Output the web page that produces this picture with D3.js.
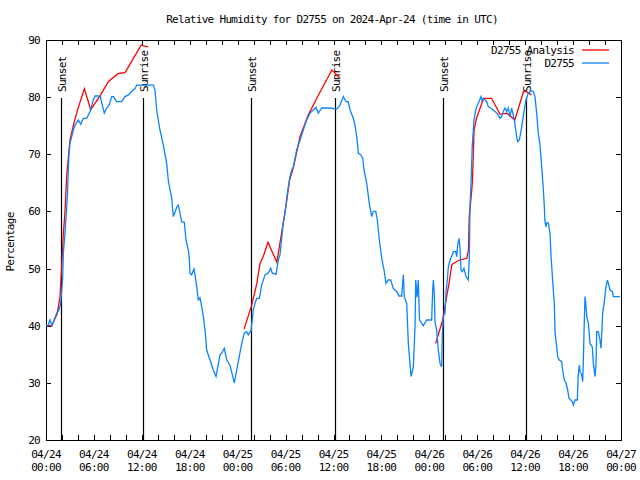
<!DOCTYPE html>
<html><head><meta charset="utf-8">
<script src="https://cdn.jsdelivr.net/npm/d3@7"></script>
<style>
body{margin:0;background:#fff;}
text{font-family:"DejaVu Sans Mono",monospace;font-size:11px;letter-spacing:-0.7px;fill:#000;}
</style></head><body>
<svg id="c" width="640" height="480"></svg>
<script>
// ---- data (hours since 2024-04-24 00:00 UTC) ----
const titleText = "Relative Humidity for D2755 on 2024-Apr-24 (time in UTC)";
const yLabel = "Percentage";
const yTicks = [20,30,40,50,60,70,80,90];
const seriesNames = ["D2755 Analysis","D2755"];

const obsHours = [0,0.25,0.5,0.75,1.34,1.54,1.68,1.84,1.92,2.09,2.17,2.38,2.59,2.69,2.79,2.88,3.0,3.22,3.42,3.63,4.04,4.35,4.67,5.1,5.51,5.92,6.14,6.76,7.3,7.6,7.89,8.23,8.43,8.85,9.48,9.89,10.31,10.73,11.14,11.36,13.44,13.65,13.86,14.06,14.27,14.69,15.11,15.31,15.53,15.74,15.94,16.15,16.37,16.57,16.78,16.99,17.32,17.53,17.82,17.94,18.03,18.24,18.53,18.66,18.87,19.07,19.28,19.5,19.7,19.91,20.12,20.54,20.95,21.29,21.79,22.0,22.33,22.63,23.04,23.58,23.88,24.08,24.51,24.83,25.13,25.33,25.67,25.96,26.17,26.38,26.71,27.01,27.42,27.84,28.14,28.34,28.8,29.09,29.3,29.51,29.71,29.93,30.14,30.34,30.55,30.77,30.97,31.39,31.81,32.22,32.64,33.06,33.47,33.81,34.1,34.52,35.56,36.4,36.81,37.23,37.57,37.85,38.07,38.48,38.69,38.91,39.11,39.41,39.66,39.82,40.07,40.16,40.48,40.78,40.98,41.29,41.49,41.74,42.04,42.33,42.57,42.86,43.16,43.49,43.91,44.2,44.54,44.74,44.87,45.17,45.37,45.71,46.0,46.21,46.3,46.46,46.62,46.77,47.24,47.67,48.29,48.42,48.5,48.62,48.71,48.92,49.12,49.34,49.55,49.62,49.75,49.96,50.09,50.25,50.38,50.59,50.81,51.01,51.31,51.43,51.55,51.72,51.84,51.97,52.13,52.34,52.59,52.88,53.01,53.09,53.22,53.38,53.59,53.81,54.01,54.22,54.47,54.6,54.76,55.19,55.39,55.69,56.01,56.44,56.85,57.06,57.26,57.48,57.69,57.89,58.1,58.31,58.64,58.94,59.06,59.27,59.57,59.86,60.11,60.39,60.73,61.02,61.23,61.44,61.64,61.86,62.07,62.27,62.4,62.48,62.61,62.7,62.9,63.11,63.24,63.4,63.52,63.65,63.74,63.95,64.07,64.27,64.57,64.7,64.9,65.11,65.32,65.49,65.7,65.9,66.03,66.24,66.53,66.65,66.78,66.87,67.08,67.2,67.28,67.41,67.49,67.58,67.71,67.91,68.12,68.41,68.54,68.75,68.87,68.96,69.16,69.37,69.5,69.59,69.71,69.91,70.09,70.29,70.42,70.62,70.91,71.04,71.87];
const obsValues = [40,40,41,40,42.2,42.5,43,44,45.4,48.3,52.7,56.2,60.8,63,67.3,69.9,71.9,73.1,74.25,75.1,76,75.25,76.3,76.3,77.5,79.5,80.2,80.2,77.2,78.1,78.6,80.1,80.1,79.2,79.2,80.1,80.4,81,81.5,82.1,82.1,81.25,77.75,76,74.25,71.6,68.4,65.5,63.75,62.3,59.1,59.8,60.8,61.1,59.7,58.2,58.1,55,53.25,51.8,49.2,48.9,49.9,48.9,46.8,44.5,44.9,43.3,41.6,39.25,35.75,34,32.25,31.1,34.9,35.2,36.05,34,33.1,30,32.25,33.7,36.9,38.7,38.95,38.4,39.1,42.75,43.9,44.8,44.8,47.1,48.9,49.2,50.05,49.2,49,51.5,52.4,55.3,57.9,59.7,62.3,64.3,66.1,67.25,67.8,70.75,72.5,74.25,76,77.2,77.75,78.2,77.2,78.1,78.1,77.9,78.6,80.1,79.2,79.2,77.75,76.3,75.1,73.1,70.2,69.9,69.3,67.25,65.5,64.9,61.4,59.1,60,60,58.5,55,51.8,49.75,47.4,48,48,46.5,46,45.2,45.2,48.9,45,43.9,36.9,31.1,32.8,40,48,45,48,41,40,41,41,46.25,48,45.7,40.7,39.25,35.75,33.4,32.8,38.1,41.6,42.2,46,48,50.3,51.5,52.2,52.95,52.95,52.1,54.1,55.3,53.5,49.75,49.45,50.05,48.6,48,52.1,60.8,64.9,71.6,76,77.75,78.6,79.2,80.1,79.4,79.8,79.2,78.3,78.1,77.75,77.2,76.3,76.6,77.5,78.1,77.5,78.1,76.6,78.1,76,73.1,72.2,72.5,74.8,77.5,79.5,80.7,81.1,81,80.1,77.2,73.7,71.6,67.8,64,60.8,58.2,57.3,58,58,56.2,52.1,48.9,46.25,43.9,38.7,36.3,34.6,34,33.7,32.25,30.5,30,28.75,27.3,27,26.7,26.1,27,27,31.4,33.1,32,31.4,30.2,33.7,41,45.1,44.2,41.6,40.4,36.9,36.3,33.4,31.1,33.4,38.95,38.95,37.5,36.05,38.7,42.2,44.2,46.5,48,47.4,46.25,46,45.1,45.1];

// null marks a gap in the analysis series
const anaHours = [0,0.7,1.38,1.75,1.97,2.17,2.38,2.6,3.0,3.5,4.0,4.8,5.6,6.8,7.8,9.0,9.9,11.9,12.8,null,24.8,25.76,26.4,26.8,27.2,27.8,28.9,29.5,30.1,30.5,31.0,31.8,32.85,33.9,35.8,36.8,null,48.8,49.67,49.95,50.5,50.8,51.0,51.8,52.7,52.9,53.0,53.2,53.4,53.6,53.9,54.8,55.8,56.85,57.7,58.7,59.8,60.1,60.8];
const anaValues = [40,40,42,45,50.6,56,60,66.4,72.5,75.5,78,81.5,77.8,80.3,82.7,84.1,84.3,89.1,88.8,null,39.4,43.6,47.4,50.9,52.1,54.6,51.1,56.2,61.4,65.5,67.8,73.1,76.9,79.8,84.75,83.3,null,36.9,41,43.3,47.7,50.6,50.9,51.5,51.8,53.25,59.1,62,65.2,74.25,76.3,79.8,79.8,77,77.2,76,81,81,80.4];

const sunHours = [1.84,12.18,25.71,36.23,49.75,60.14];
const sunLabels = ["Sunset","Sunrise","Sunset","Sunrise","Sunset","Sunrise"];

// ---- drawing ----
const W=640,H=480, m={l:46,r:19,t:40,b:40};
const t0 = Date.UTC(2024,3,24,0,0);
const toDate = h => new Date(t0 + h*3600000);
const svg = d3.select("#c");
const x = d3.scaleUtc().domain([toDate(0),toDate(72)]).range([m.l, W-m.r]);
const y = d3.scaleLinear().domain([20,90]).range([H-m.b, m.t]);

const tick2 = x.ticks(d3.utcHour.every(2));
const axB = svg.append("g").attr("transform",`translate(0,${H-m.b})`)
  .call(d3.axisBottom(x).tickValues(tick2).tickSize(-5).tickFormat(""));
const axT = svg.append("g").attr("transform",`translate(0,${m.t})`)
  .call(d3.axisTop(x).tickValues(tick2).tickSize(-5).tickFormat(""));
const axL = svg.append("g").attr("transform",`translate(${m.l},0)`)
  .call(d3.axisLeft(y).tickValues(yTicks).tickSize(-5).tickFormat(""));
const axR = svg.append("g").attr("transform",`translate(${W-m.r},0)`)
  .call(d3.axisRight(y).tickValues(yTicks).tickSize(-5).tickFormat(""));
[axB,axT,axL,axR].forEach(g=>{g.select(".domain").remove(); g.selectAll("line").attr("stroke","#000").attr("shape-rendering","crispEdges");});

// x labels (two lines)
const f1 = d3.utcFormat("%m/%d"), f2 = d3.utcFormat("%H:%M");
x.ticks(d3.utcHour.every(6)).forEach(d=>{
  const t = svg.append("text").attr("x",x(d)).attr("text-anchor","middle");
  t.append("tspan").attr("x",x(d)).attr("y",458).text(f1(d));
  t.append("tspan").attr("x",x(d)).attr("y",471).text(f2(d));
});
// y labels
yTicks.forEach(v=>{
  svg.append("text").attr("x",40).attr("y",y(v)).attr("dy","0.36em").attr("text-anchor","end").text(v);
});

// border
svg.append("rect").attr("x",m.l).attr("y",m.t).attr("width",W-m.l-m.r).attr("height",H-m.t-m.b)
  .attr("fill","none").attr("stroke","#000").attr("shape-rendering","crispEdges");

// title and y label
svg.append("text").attr("x",332).attr("y",23).attr("text-anchor","middle").text(titleText);
svg.append("text").attr("transform","translate(14,242) rotate(-90)").attr("text-anchor","middle").text(yLabel);

// sunrise / sunset
sunHours.forEach((h,i)=>{
  const xx = Math.round(x(toDate(h)))+0.5;
  svg.append("line").attr("x1",xx).attr("x2",xx).attr("y1",H-m.b).attr("y2",98).attr("stroke","#000").attr("stroke-width",1.2);
  svg.append("text").attr("transform",`translate(${xx+0.5},92) rotate(-90)`).attr("dominant-baseline","central").text(sunLabels[i]);
});

// series
const anaData = anaHours.map((h,i)=>({h, v: anaValues[i]}));
const obsData = obsHours.map((h,i)=>({h, v: obsValues[i]}));
const line = d3.line().defined(d=>d.h!=null && d.v!=null).x(d=>x(toDate(d.h))).y(d=>y(d.v));
svg.append("path").datum(anaData).attr("d",line).attr("fill","none").attr("stroke","#ff0000").attr("stroke-width",1.3);
svg.append("path").datum(obsData).attr("d",line).attr("fill","none").attr("stroke","#0a84ff").attr("stroke-width",1.3);

// legend
const colors = ["#ff0000","#0a84ff"];
seriesNames.forEach((n,i)=>{
  const yy = 50 + i*13;
  svg.append("text").attr("x",574).attr("y",yy).attr("dy","0.36em").attr("text-anchor","end").text(n);
  svg.append("line").attr("x1",582).attr("x2",609).attr("y1",yy).attr("y2",yy).attr("stroke",colors[i]).attr("stroke-width",1.3);
});
</script></body></html>
